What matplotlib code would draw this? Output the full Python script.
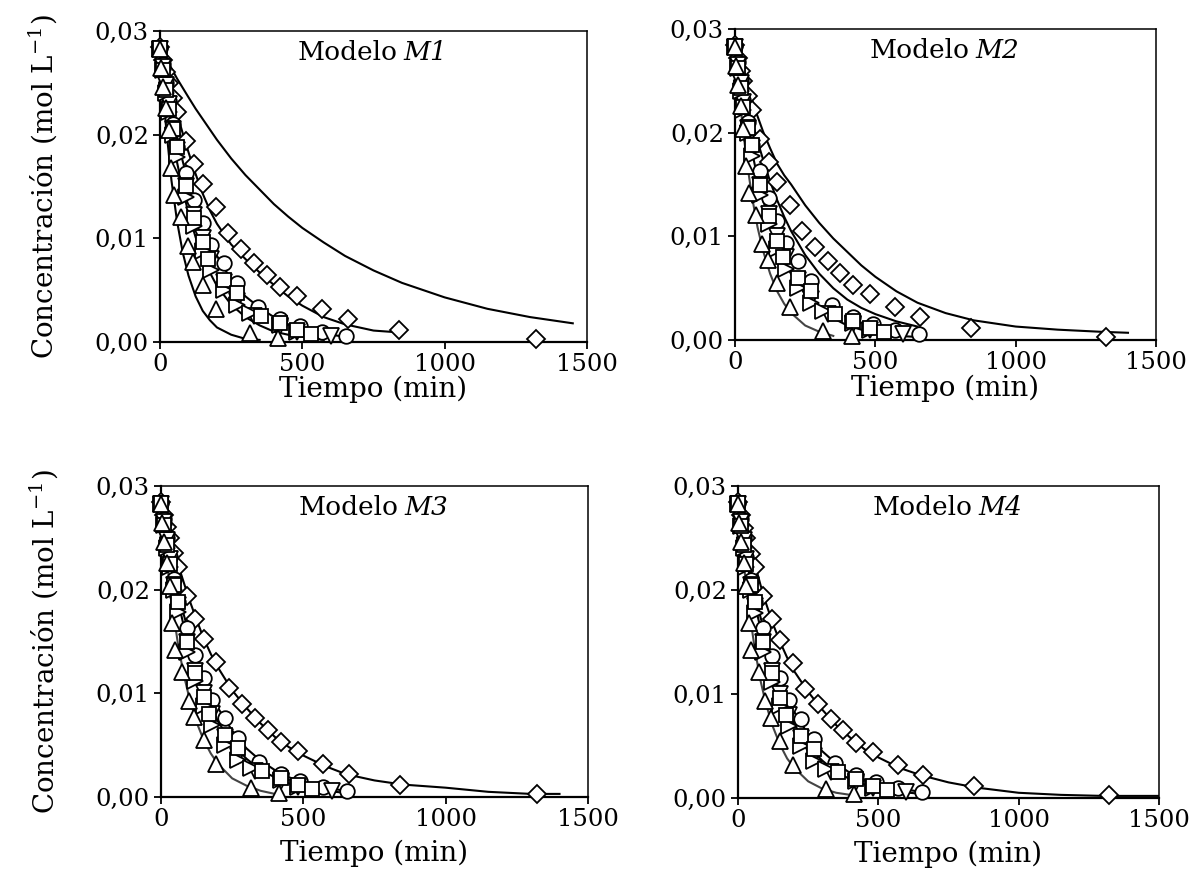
import numpy as np
import matplotlib
matplotlib.use("Agg")
import matplotlib.pyplot as plt
from matplotlib.ticker import FuncFormatter

plt.rcParams['font.family'] = ['DejaVu Serif']
plt.rcParams['mathtext.fontset'] = 'dejavuserif'

# experimental points (min, mol/L) -- same in the four panels
t_diamond = [0, 10, 20, 30, 45, 60, 90, 120, 150, 195, 240, 285, 330, 375, 420, 480, 570, 660, 840, 1320]
c_diamond = [0.0285, 0.0272, 0.0260, 0.0250, 0.0235, 0.0222, 0.0194, 0.0172, 0.0152, 0.0130,
             0.0105, 0.0090, 0.0076, 0.0065, 0.0053, 0.0044, 0.0032, 0.0022, 0.0012, 0.0003]
t_circle = [0, 10, 20, 30, 45, 60, 90, 120, 150, 180, 225, 270, 345, 420, 490, 570, 655]
c_circle = [0.0284, 0.0268, 0.0250, 0.0232, 0.0210, 0.0188, 0.0163, 0.0137, 0.0115, 0.0094,
            0.0076, 0.0057, 0.0034, 0.0022, 0.0015, 0.0010, 0.0006]
t_tri_down = [0, 10, 20, 30, 45, 60, 90, 120, 150, 180, 225, 270, 330, 420, 480, 600]
c_tri_down = [0.0283, 0.0265, 0.0248, 0.0230, 0.0205, 0.0185, 0.0150, 0.0122, 0.0100, 0.0080,
              0.0058, 0.0040, 0.0025, 0.0015, 0.0010, 0.0006]
t_tri_right = [0, 10, 20, 30, 45, 60, 90, 120, 150, 180, 225, 270, 315, 420, 480]
c_tri_right = [0.0283, 0.0262, 0.0240, 0.0222, 0.0200, 0.0178, 0.0140, 0.0112, 0.0088, 0.0069,
               0.0050, 0.0036, 0.0028, 0.0016, 0.0010]
t_square = [0, 10, 20, 30, 45, 60, 90, 120, 150, 170, 225, 270, 355, 420, 480, 530]
c_square = [0.0284, 0.0262, 0.0243, 0.0225, 0.0205, 0.0188, 0.0150, 0.0120, 0.0096, 0.0080,
            0.0060, 0.0047, 0.0025, 0.0018, 0.0012, 0.0008]
t_tri_up = [0, 5, 10, 20, 30, 40, 48, 75, 97, 117, 150, 195, 315, 415]
c_tri_up = [0.0283, 0.0264, 0.0246, 0.0226, 0.0204, 0.0168, 0.0142, 0.0121, 0.0093, 0.0077,
            0.0055, 0.0032, 0.0009, 0.0004]

# model curves, on a common time grid (shorter list = curve ends earlier)
t_fit = [0, 20, 40, 60, 80, 100, 125, 150, 175, 200, 250, 300, 350, 400, 450, 500,
         575, 650, 750, 850, 1000, 1150, 1300, 1400, 1450, 1500]

m1_slow = [0.0285, 0.0274, 0.0264, 0.0254, 0.0245, 0.0236, 0.0225, 0.0215, 0.0205, 0.0195, 0.0177,
           0.0161, 0.0147, 0.0133, 0.0121, 0.0110, 0.0096, 0.0083, 0.0069, 0.0057, 0.0043, 0.0032,
           0.0024, 0.0020, 0.0018]
m1_mid = [0.0285, 0.0262, 0.0240, 0.0220, 0.0201, 0.0183, 0.0162, 0.0143, 0.0127, 0.0114, 0.0094,
          0.0080, 0.0067, 0.0055, 0.0044, 0.0035, 0.0024, 0.0017, 0.0011, 0.0009]
m1_clu_a = [0.0285, 0.0252, 0.0223, 0.0197, 0.0174, 0.0153, 0.0131, 0.0112, 0.0096, 0.0083, 0.0060,
            0.0044, 0.0033, 0.0024, 0.0017, 0.0013, 0.0008, 0.0005]
m1_clu_b = [0.0285, 0.0241, 0.0205, 0.0173, 0.0147, 0.0124, 0.0101, 0.0082, 0.0067, 0.0054, 0.0036,
            0.0024, 0.0016, 0.0010, 0.0007, 0.0005, 0.0002]
m1_fast = [0.0285, 0.0211, 0.0156, 0.0116, 0.0086, 0.0064, 0.0044, 0.0030, 0.0021, 0.0014, 0.0007,
           0.0003, 0.0002]

m2_slow = [0.0285, 0.0266, 0.0248, 0.0232, 0.0216, 0.0201, 0.0185, 0.0170, 0.0159, 0.0150, 0.0130,
           0.0113, 0.0098, 0.0085, 0.0072, 0.0061, 0.0047, 0.0036, 0.0026, 0.0019, 0.0013, 0.0010,
           0.0008, 0.0007]
m2_mid = [0.0285, 0.0258, 0.0234, 0.0212, 0.0192, 0.0174, 0.0153, 0.0135, 0.0119, 0.0105, 0.0082,
          0.0064, 0.0050, 0.0039, 0.0031, 0.0025, 0.0018, 0.0013]
m2_clu = [0.0285, 0.0246, 0.0212, 0.0182, 0.0157, 0.0135, 0.0112, 0.0093, 0.0077, 0.0064, 0.0044,
          0.0030, 0.0021, 0.0014, 0.0010, 0.0007, 0.0004, 0.0003]
m2_fast = [0.0285, 0.0224, 0.0176, 0.0139, 0.0109, 0.0086, 0.0064, 0.0047, 0.0035, 0.0026, 0.0014,
           0.0008, 0.0004]

m3_slow = [0.0285, 0.0263, 0.0243, 0.0224, 0.0207, 0.0190, 0.0171, 0.0153, 0.0138, 0.0125, 0.0103,
           0.0086, 0.0071, 0.0058, 0.0048, 0.0040, 0.0030, 0.0022, 0.0016, 0.0012, 0.0009, 0.0005,
           0.0003, 0.0003]
m3_mid = [0.0285, 0.0252, 0.0224, 0.0199, 0.0176, 0.0156, 0.0135, 0.0116, 0.0100, 0.0086, 0.0064,
          0.0047, 0.0035, 0.0026, 0.0019, 0.0014, 0.0009, 0.0006]
m3_clu = [0.0285, 0.0248, 0.0217, 0.0189, 0.0165, 0.0144, 0.0122, 0.0103, 0.0087, 0.0073, 0.0052,
          0.0037, 0.0026, 0.0019, 0.0013, 0.0010, 0.0006, 0.0004]
m3_fast = [0.0285, 0.0229, 0.0184, 0.0147, 0.0118, 0.0095, 0.0072, 0.0055, 0.0042, 0.0032, 0.0018,
           0.0011, 0.0006, 0.0003]

m4_slow = [0.0285, 0.0265, 0.0245, 0.0225, 0.0205, 0.0187, 0.0167, 0.0150, 0.0135, 0.0122, 0.0102,
           0.0085, 0.0070, 0.0058, 0.0047, 0.0039, 0.0029, 0.0022, 0.0015, 0.0010, 0.0005, 0.0003,
           0.0002, 0.0002, 0.0002, 0.0002]
m4_mid = [0.0285, 0.0252, 0.0223, 0.0197, 0.0174, 0.0154, 0.0132, 0.0113, 0.0097, 0.0083, 0.0061,
          0.0045, 0.0033, 0.0024, 0.0018, 0.0013, 0.0009, 0.0006]
m4_clu = [0.0285, 0.0247, 0.0215, 0.0187, 0.0163, 0.0142, 0.0120, 0.0101, 0.0085, 0.0071, 0.0050,
          0.0036, 0.0025, 0.0018, 0.0013, 0.0009, 0.0006, 0.0004]
m4_fast = [0.0285, 0.0226, 0.0180, 0.0143, 0.0113, 0.0090, 0.0068, 0.0051, 0.0038, 0.0029, 0.0016,
           0.0009, 0.0005, 0.0003]

panel_names = ["M1", "M2", "M3", "M4"]
panel_curves = [
    [m1_slow, m1_mid, m1_clu_a, m1_clu_b, m1_fast],
    [m2_slow, m2_mid, m2_clu, m2_fast],
    [m3_slow, m3_mid, m3_clu, m3_fast],
    [m4_slow, m4_mid, m4_clu, m4_fast],
]

series = [
    (t_diamond, c_diamond, 'D', 9),
    (t_circle, c_circle, 'o', 10.5),
    (t_tri_down, c_tri_down, 'v', 11.5),
    (t_tri_right, c_tri_right, '>', 11.5),
    (t_square, c_square, 's', 10.5),
    (t_tri_up, c_tri_up, '^', 12),
]

# axes boxes in figure fraction [left, bottom, width, height]
boxes = [
    [0.1346, 0.6114, 0.3591, 0.3534],
    [0.6182, 0.6136, 0.3541, 0.3534],
    [0.1354, 0.0943, 0.3591, 0.3534],
    [0.6207, 0.0932, 0.3541, 0.3545],
]

fig = plt.figure(figsize=(11.89, 8.80), dpi=100)
comma = FuncFormatter(lambda v, p: f"{v:.2f}".replace('.', ','))

for i in range(4):
    ax = fig.add_axes(boxes[i])
    curves = panel_curves[i]
    for j, vals in enumerate(curves):
        color = '#444444' if (i > 0 and j == len(curves) - 1) else 'black'
        ax.plot(t_fit[:len(vals)], vals, color=color, lw=1.5, zorder=2)
    for t, c, mk, ms in series:
        ax.plot(t, c, linestyle='none', marker=mk, ms=ms, mfc='white', mec='black',
                mew=1.3, zorder=3, clip_on=False)
    ax.set_xlim(0, 1500)
    ax.set_ylim(0, 0.03)
    ax.set_xticks([0, 500, 1000, 1500])
    ax.set_yticks([0, 0.01, 0.02, 0.03])
    ax.yaxis.set_major_formatter(comma)
    ax.tick_params(direction='out', length=5, width=1.3, labelsize=17.5, pad=3, color='black')
    for side in ['left', 'bottom']:
        ax.spines[side].set_linewidth(1.6)
    for side in ['top', 'right']:
        ax.spines[side].set_linewidth(1.1)
    ax.set_xlabel("Tiempo (min)", fontsize=20, labelpad=0 if i < 2 else 6)
    if i % 2 == 0:
        ax.set_ylabel("Concentración (mol L$^{-1}$)", fontsize=20, labelpad=26)
    ax.text(0.557, 0.93, "Modelo", transform=ax.transAxes,
            ha='right', va='center', fontsize=19)
    ax.text(0.571, 0.93, panel_names[i], transform=ax.transAxes,
            ha='left', va='center', fontsize=19, fontstyle='italic')

fig.savefig("out.png", dpi=100)
